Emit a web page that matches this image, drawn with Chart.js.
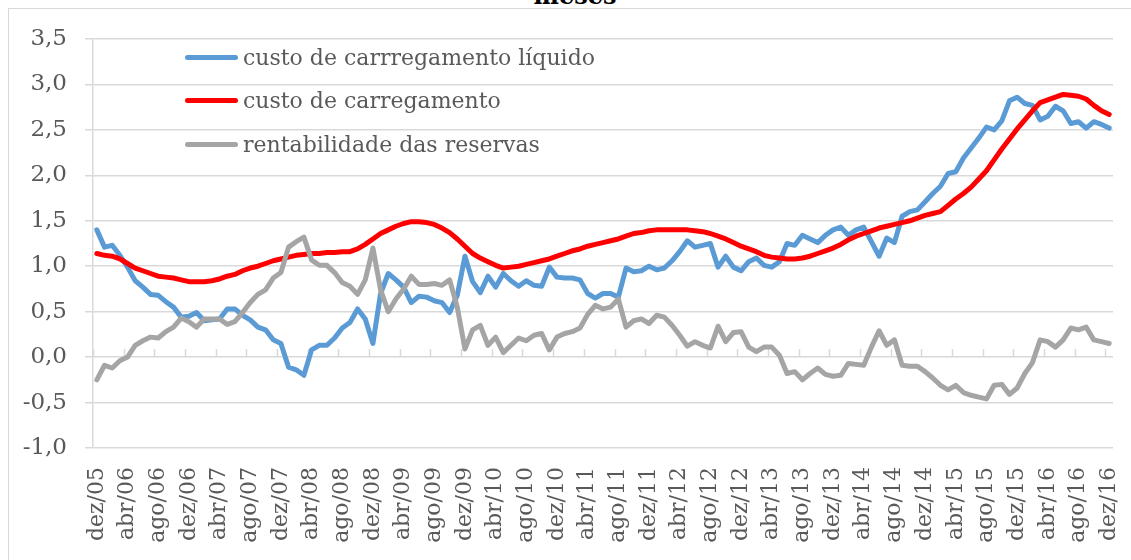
<!DOCTYPE html>
<html>
<head>
<meta charset="utf-8">
<script src="https://cdn.jsdelivr.net/npm/chart.js@4/dist/chart.umd.min.js"></script>
<style>
  html, body { margin: 0; padding: 0; background: #fff; }
  #wrap { position: relative; width: 1131px; height: 560px; overflow: hidden; font-family: 'DejaVu Serif', serif; }
  #frame { position: absolute; left: 8px; top: 8px; width: 1200px; height: 600px; border: 1.5px solid #d9d9d9; box-sizing: border-box; }
  #title { position: absolute; left: 0; width: 1150px; top: -19px; text-align: center; font-weight: bold; font-size: 24px; color: #000; }
  #chart { position: absolute; left: 0; top: 0; }
  .item { position: absolute; left: 185px; height: 30px; display: flex; align-items: center; color: #595959; font-size: 22px; white-space: nowrap; }
  .swatch { width: 53px; height: 5px; border-radius: 3px; margin-right: 5px; }
</style>
</head>
<body>
<div id="wrap">
  <div id="frame"></div>
  <div id="title">meses</div>
  <canvas id="chart" width="1131" height="560"></canvas>
  <div id="legend"></div>
</div>
<script>
/* Custo de carregamento x rentabilidade das reservas (mensal, dez/05 - dez/16) */

const MONTHS = ['jan','fev','mar','abr','mai','jun','jul','ago','set','out','nov','dez'];
const labels = ['dez/05'];
for (let yr = 6; yr <= 16; yr++) {
    MONTHS.forEach(m => labels.push(m + '/' + String(yr).padStart(2, '0')));
}

const custoLiquido = [
    1.40,1.21,1.23,1.12,0.99,0.84,0.77,0.69,0.68,0.61,0.55,0.44,0.45,0.49,0.40,0.41,0.42,0.53,0.53,0.46,
    0.41,0.33,0.30,0.19,0.15,-0.11,-0.14,-0.20,0.08,0.13,0.13,0.21,0.32,0.38,0.53,0.42,0.15,
    0.70,0.92,0.85,0.77,0.60,0.67,0.66,0.62,0.60,0.49,0.68,1.11,0.83,0.71,0.89,0.77,0.92,0.84,0.78,0.84,
    0.79,0.78,0.99,0.88,0.87,0.87,0.85,0.70,0.65,0.70,0.70,0.66,0.98,0.94,0.95,1.00,0.96,0.98,1.06,1.16,
    1.28,1.21,1.23,1.25,0.99,1.11,0.99,
    0.95,1.05,1.09,1.01,0.99,1.05,1.25,1.23,1.34,1.30,1.26,1.34,1.40,1.43,1.34,1.40,1.43,1.27,1.11,1.31,
    1.26,1.55,1.60,1.62,1.71,1.80,1.88,2.02,2.04,2.19,2.30,2.41,2.53,2.50,2.60,2.82,2.86,2.79,2.77,2.61,
    2.65,2.76,2.71,2.57,2.59,2.52,2.59,2.56,2.52
];
const custoCarregamento = [
    1.14,1.12,1.11,1.08,1.03,0.98,0.95,0.92,0.89,0.88,0.87,0.85,0.83,0.83,0.83,0.84,0.86,0.89,0.91,0.95,
    0.98,1.00,1.03,1.06,1.08,1.10,1.12,1.13,1.14,1.14,1.15,1.15,1.16,1.16,1.19,1.24,1.30,
    1.36,1.40,1.44,1.47,1.49,1.49,1.48,1.46,1.42,1.37,1.30,1.22,1.14,1.09,1.05,1.01,0.98,0.99,1.00,1.02,
    1.04,1.06,1.08,1.11,1.14,1.17,1.19,1.22,1.24,1.26,1.28,1.30,1.33,1.36,1.37,1.39,1.40,1.40,1.40,1.40,
    1.40,1.39,1.38,1.36,1.33,1.30,1.26,
    1.22,1.19,1.16,1.12,1.10,1.09,1.08,1.08,1.09,1.11,1.14,1.17,1.20,1.24,1.29,1.33,1.36,1.39,1.42,1.44,
    1.46,1.48,1.50,1.53,1.56,1.58,1.60,1.67,1.74,1.80,1.87,1.96,2.05,2.17,2.29,2.40,2.51,2.61,2.71,2.80,
    2.83,2.86,2.89,2.88,2.87,2.84,2.77,2.71,2.67
];
const rentabilidade = [
    -0.25,-0.09,-0.12,-0.04,0.00,0.13,0.18,0.22,0.21,0.28,0.33,0.43,0.39,0.33,0.42,0.42,0.42,0.36,0.39,0.49,
    0.60,0.69,0.74,0.87,0.93,1.21,1.27,1.32,1.07,1.01,1.01,0.93,0.82,0.78,0.69,0.85,1.20,
    0.74,0.50,0.64,0.75,0.89,0.80,0.80,0.81,0.79,0.85,0.55,0.09,0.30,0.35,0.13,0.22,0.05,0.13,0.21,0.18,
    0.24,0.26,0.08,0.22,0.26,0.28,0.32,0.47,0.57,0.53,0.55,0.64,0.33,0.40,0.42,0.37,0.46,0.44,0.35,0.24,
    0.12,0.17,0.13,0.10,0.34,0.17,0.27,
    0.28,0.11,0.06,0.11,0.11,0.02,-0.18,-0.16,-0.25,-0.18,-0.12,-0.19,-0.21,-0.20,-0.07,-0.08,-0.09,0.11,0.29,0.13,
    0.19,-0.09,-0.10,-0.10,-0.16,-0.23,-0.31,-0.36,-0.31,-0.39,-0.42,-0.44,-0.46,-0.31,-0.30,-0.41,-0.34,-0.18,-0.06,0.19,
    0.17,0.11,0.19,0.32,0.30,0.33,0.19,0.17,0.15
];

const SERIES = [
    { label: 'custo de carrregamento líquido', data: custoLiquido, color: '#5b9bd5', order: 3 },
    { label: 'custo de carregamento', data: custoCarregamento, color: '#ff0000', order: 2 },
    { label: 'rentabilidade das reservas', data: rentabilidade, color: '#a5a5a5', order: 1 },
];

const TEXT_COLOR = '#595959';
const GRID_COLOR = '#d9d9d9';
const FONT = "'DejaVu Serif', serif";

// small tick marks on the zero line, every 4 months, between categories
const zeroAxisTicks = {
    id: 'zeroAxisTicks',
    beforeDatasetsDraw(chart) {
        const { ctx, scales: { x, y } } = chart;
        const y0 = y.getPixelForValue(0);
        const half = (x.getPixelForValue(1) - x.getPixelForValue(0)) / 2;
        ctx.save();
        ctx.strokeStyle = GRID_COLOR;
        ctx.lineWidth = 1.5;
        ctx.beginPath();
        for (let i = 0; i < labels.length; i += 4) {
            const px = Math.round(x.getPixelForValue(i) - half) + 0.5;
            ctx.moveTo(px, y0 - 8);
            ctx.lineTo(px, y0);
        }
        ctx.stroke();
        ctx.restore();
    }
};

// vertical month labels (every 4th category) under the plot
const verticalLabels = {
    id: 'verticalLabels',
    afterDraw(chart) {
        const { ctx, chartArea, scales: { x } } = chart;
        ctx.save();
        ctx.fillStyle = TEXT_COLOR;
        ctx.font = `22px ${FONT}`;
        ctx.textAlign = 'right';
        ctx.textBaseline = 'middle';
        for (let i = 0; i < labels.length; i += 4) {
            ctx.save();
            ctx.translate(x.getPixelForValue(i), chartArea.bottom + 19);
            ctx.rotate(-Math.PI / 2);
            ctx.fillText(labels[i], 0, 0);
            ctx.restore();
        }
        ctx.restore();
    }
};

new Chart(document.getElementById('chart').getContext('2d'), {
    type: 'line',
    data: {
        labels: labels,
        datasets: SERIES.map(s => ({
            label: s.label,
            data: s.data,
            borderColor: s.color,
            backgroundColor: s.color,
            borderWidth: 5,
            borderCapStyle: 'round',
            borderJoinStyle: 'round',
            pointRadius: 0,
            tension: 0,
            order: s.order,
        })),
    },
    options: {
        responsive: false,
        animation: false,
        layout: { padding: { top: 39, right: 18, left: 8, bottom: 0 } },
        plugins: { legend: { display: false }, tooltip: { enabled: false } },
        scales: {
            x: {
                offset: true,
                grid: { display: false, drawTicks: false },
                border: { display: false },
                ticks: { display: false },
                afterFit: s => { s.height = 112; },
            },
            y: {
                min: -1, max: 3.5,
                ticks: {
                    stepSize: 0.5, padding: 18,
                    color: TEXT_COLOR, font: { family: FONT, size: 23 },
                    callback: v => v.toFixed(1).replace('.', ','),
                },
                grid: { color: GRID_COLOR, lineWidth: 1.5, tickLength: 8 },
                border: { color: GRID_COLOR, width: 1.5 },
                afterFit: s => { s.width = 85; },
            },
        },
    },
    plugins: [zeroAxisTicks, verticalLabels],
});

// legend inside the plot, top left (row centres at 57, 100.5, 144)
document.getElementById('legend').innerHTML = SERIES.map((s, i) => `
    <div class="item" style="top:${42 + i * 43.5}px"><span class="swatch" style="background:${s.color}"></span>${s.label}</div>
`).join('');
</script>
</body>
</html>
